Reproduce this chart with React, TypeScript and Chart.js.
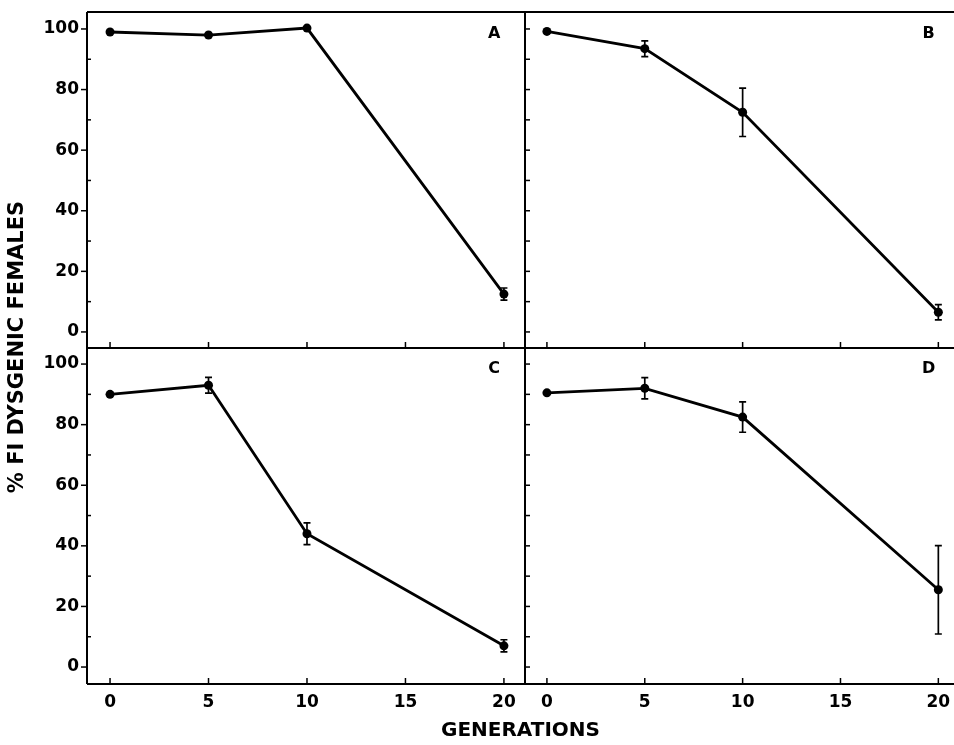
import React, { useEffect, useRef } from "react";
import { Chart, registerables } from "chart.js";

Chart.register(...registerables);

// ---- data ----
const generations = [0, 5, 10, 20];

const panelA = [99, 98, 100.3, 12.5];
const panelAErr = [0, 0, 0, 2];
const panelB = [99.2, 93.5, 72.5, 6.5];
const panelBErr = [0, 2.6, 8, 2.5];
const panelC = [90, 93, 44, 7];
const panelCErr = [0, 2.6, 3.6, 2];
const panelD = [90.5, 92, 82.5, 25.5];
const panelDErr = [0, 3.5, 5, 14.6];

const panelLabels = ["A", "B", "C", "D"];
const yTickValues = [0, 20, 40, 60, 80, 100];
const yMinorValues = [0, 10, 20, 30, 40, 50, 60, 70, 80, 90, 100];
const xTickValues = [0, 5, 10, 15, 20];

const yTitle = "% FI DYSGENIC FEMALES";
const xTitle = "GENERATIONS";

const FONT = "'DejaVu Sans', 'Liberation Sans', sans-serif";

const framePlugin = {
  id: "frameAndErrors",
  afterDatasetsDraw(chart: any) {
    const ctx = chart.ctx;
    ctx.save();
    ctx.strokeStyle = "#000";
    ctx.lineWidth = 1.7;
    chart.data.datasets.forEach((ds: any, i: number) => {
      const meta = chart.getDatasetMeta(i);
      const yScale = chart.scales[ds.yAxisID];
      meta.data.forEach((pt: any, j: number) => {
        const e = ds.errors[j];
        if (!e) return;
        const v = ds.data[j].y;
        const yHi = yScale.getPixelForValue(v + e);
        const yLo = yScale.getPixelForValue(v - e);
        const x = pt.x;
        ctx.beginPath();
        ctx.moveTo(x, yHi);
        ctx.lineTo(x, yLo);
        ctx.moveTo(x - 3.5, yHi);
        ctx.lineTo(x + 3.5, yHi);
        ctx.moveTo(x - 3.5, yLo);
        ctx.lineTo(x + 3.5, yLo);
        ctx.stroke();
      });
    });
    ctx.restore();
  },
  afterDraw(chart: any) {
    const ctx = chart.ctx;
    const { xL, xR, yTop, yBot } = chart.scales;
    const ca = chart.chartArea;
    const line = (x1: number, y1: number, x2: number, y2: number) => {
      ctx.beginPath();
      ctx.moveTo(x1, y1);
      ctx.lineTo(x2, y2);
      ctx.stroke();
    };
    ctx.save();
    ctx.strokeStyle = "#000";
    ctx.lineWidth = 2;
    // frame
    line(ca.left, ca.top, ca.right, ca.top);
    line(ca.left, ca.top, ca.left, ca.bottom);
    line(ca.left, ca.bottom, ca.right, ca.bottom);
    line(xR.left, ca.top, xR.left, ca.bottom);
    line(ca.left, yTop.bottom, ca.right, yTop.bottom);

    ctx.lineWidth = 1.5;
    // y ticks
    [yTop, yBot].forEach((ys: any) => {
      yMinorValues.forEach((v) => {
        const y = ys.getPixelForValue(v);
        if (v % 20 === 0) line(ca.left - 6, y, ca.left, y);
        else line(ca.left, y, ca.left + 4, y);
        line(xR.left, y, xR.left + 5, y);
      });
    });
    // x ticks
    [xL, xR].forEach((xs: any) => {
      xTickValues.forEach((v) => {
        const x = xs.getPixelForValue(v);
        [yTop.bottom, yBot.bottom].forEach((b: number) => line(x, b, x, b - 6));
      });
    });

    // panel letters
    ctx.fillStyle = "#000";
    ctx.font = `bold 16px ${FONT}`;
    ctx.textAlign = "center";
    ctx.textBaseline = "middle";
    const panels = [
      [xL, yTop],
      [xR, yTop],
      [xL, yBot],
      [xR, yBot],
    ];
    panels.forEach(([xs, ys]: any, i: number) => {
      ctx.fillText(panelLabels[i], xs.getPixelForValue(19.5), ys.getPixelForValue(98.5));
    });

    // axis titles
    ctx.font = `bold 20px ${FONT}`;
    ctx.fillText(xTitle, (ca.left + ca.right) / 2, 731);
    ctx.save();
    ctx.translate(18, 347);
    ctx.rotate(-Math.PI / 2);
    ctx.font = `bold 21px ${FONT}`;
    ctx.fillText(yTitle, 0, 0);
    ctx.restore();
    ctx.restore();
  },
};

function makeDataset(values: number[], errs: number[], xAxisID: string, yAxisID: string) {
  return {
    data: generations.map((g, i) => ({ x: g, y: values[i] })),
    errors: errs,
    xAxisID,
    yAxisID,
    borderColor: "#000",
    backgroundColor: "#000",
    borderWidth: 2.8,
    pointRadius: 4.5,
    pointBackgroundColor: "#000",
    pointBorderColor: "#000",
    pointBorderWidth: 0,
    tension: 0,
    fill: false,
    clip: false,
  };
}

const tickFont = { family: FONT, weight: "bold" as const, size: 17 };

function zeroPad(s: any) {
  s.paddingLeft = 0;
  s.paddingRight = 0;
  s.paddingTop = 0;
  s.paddingBottom = 0;
}

function xScale(min: number, max: number, weight: number) {
  return {
    type: "linear" as const,
    axis: "x" as const,
    position: "bottom" as const,
    stack: "xs",
    stackWeight: weight,
    min,
    max,
    grid: { display: false, drawTicks: false },
    border: { display: false },
    ticks: { color: "#000", font: tickFont, padding: 8, maxRotation: 0 },
    afterBuildTicks: (s: any) => {
      s.ticks = xTickValues.map((v) => ({ value: v }));
    },
    afterFit: (s: any) => {
      s.height = 61;
      zeroPad(s);
    },
  };
}

function yScale(min: number, max: number) {
  return {
    type: "linear" as const,
    axis: "y" as const,
    position: "left" as const,
    stack: "ys",
    stackWeight: 1,
    min,
    max,
    grid: { display: false, drawTicks: false },
    border: { display: false },
    ticks: { color: "#000", font: tickFont, padding: 8 },
    afterBuildTicks: (s: any) => {
      s.ticks = yTickValues.map((v) => ({ value: v }));
    },
    afterFit: (s: any) => {
      s.width = 87;
      zeroPad(s);
    },
  };
}

export default function App() {
  const ref = useRef<HTMLCanvasElement | null>(null);
  useEffect(() => {
    if (!ref.current) return;
    const chart = new Chart(ref.current, {
      type: "line",
      data: {
        datasets: [
          makeDataset(panelA, panelAErr, "xL", "yTop"),
          makeDataset(panelB, panelBErr, "xR", "yTop"),
          makeDataset(panelC, panelCErr, "xL", "yBot"),
          makeDataset(panelD, panelDErr, "xR", "yBot"),
        ] as any,
      },
      options: {
        responsive: false,
        animation: false,
        layout: { autoPadding: false, padding: { top: 12, right: 0, left: 0, bottom: 0 } },
        plugins: {
          legend: { display: false },
          tooltip: { enabled: false },
          title: { display: false },
        },
        scales: {
          xL: xScale(-1.17, 21.07, 438),
          xR: xScale(-1.12, 20.8, 429),
          yBot: yScale(-5.6, 105.3),
          yTop: yScale(-5.3, 105.6),
        } as any,
      },
      plugins: [framePlugin],
    });
    return () => chart.destroy();
  }, []);
  return (
    <div style={{ position: "fixed", left: 0, top: 0, width: 954, height: 745, background: "#fff" }}>
      <canvas ref={ref} width={954} height={745} style={{ display: "block" }} />
    </div>
  );
}
